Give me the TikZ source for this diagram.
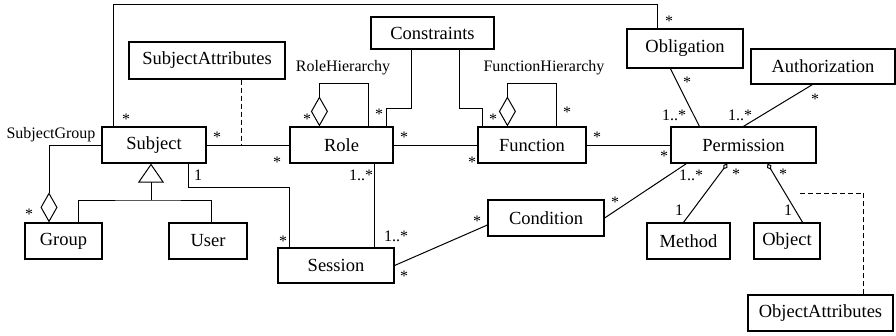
\documentclass[tikz,border=0pt]{standalone}
\usepackage{fontspec}
\setmainfont{Liberation Serif}
\usetikzlibrary{arrows.meta}

\begin{document}
\begin{tikzpicture}[x=1pt,y=-1pt,line width=1pt,
  cls/.style={draw,line width=1.2pt,inner sep=0pt,minimum height=36pt,font=\fontsize{18.5}{20}\selectfont},
  tag/.style={inner sep=0pt,font=\fontsize{16}{18}\selectfont},
  mult/.style={inner sep=0pt,font=\fontsize{16}{18}\selectfont},
  star/.style={mult,yshift=-2pt},
  aggr/.style={-{Diamond[open,length=30pt,width=17pt]}},
  aggrsmall/.style={-{Diamond[open,length=7pt,width=5pt]}},
  inherit/.style={-{Triangle[open,length=19pt,width=26pt]}},
  attr/.style={dash pattern=on 5pt off 3pt}]
  \useasboundingbox (0,0) rectangle (896,335);

  % classes
  \node[cls,at={(207,60.5)},minimum width=156pt,minimum height=37pt] (subjattr) {SubjectAttributes};
  \node[cls,at={(154,145)},minimum width=104pt] (subject) {Subject};
  \node[cls,at={(432.5,33)},minimum width=123pt,minimum height=32pt] (constraints) {Constraints};
  \node[cls,at={(341.5,145)},minimum width=103pt] (role) {Role};
  \node[cls,at={(532,145)},minimum width=108pt] (function) {Function};
  \node[cls,at={(685,48.5)},minimum width=116pt,minimum height=39pt] (obligation) {Obligation};
  \node[cls,at={(823,66.5)},minimum width=144pt,minimum height=35pt] (authorization) {Authorization};
  \node[cls,at={(743.5,145)},minimum width=145pt] (permission) {Permission};
  \node[cls,at={(63.5,241)},minimum width=77pt] (group) {Group};
  \node[cls,at={(208,241)},minimum width=78pt] (user) {User};
  \node[cls,at={(336,265.5)},minimum width=116pt,minimum height=35pt] (session) {Session};
  \node[cls,at={(546,218)},minimum width=116pt] (condition) {Condition};
  \node[cls,at={(688.5,241)},minimum width=83pt] (method) {Method};
  \node[cls,at={(787,241)},minimum width=66pt] (object) {Object};
  \node[cls,at={(820.5,313)},minimum width=145pt] (objattr) {ObjectAttributes};

  % subject side
  %edges
  \draw ([xshift=12pt]subject.north west) -- ++(0,-122) -| ([xshift=31pt]obligation.north west);
  \draw (subject.east) -- (role.west);
  \draw[attr] ([xshift=34pt]subjattr.south) -- ([xshift=34pt]subjattr.south |- subject.east);
  \draw[aggr] (subject.west) -| ([xshift=-14.5pt]group.north);
  \coordinate (gen) at (151,200);
  \draw ([xshift=14.5pt]group.north) |- (gen) -| ([xshift=3pt]user.north);
  \draw[inherit] (gen) -- (gen |- subject.south);
  \draw ([xshift=-18pt]subject.south east) -- ++(0,24) -| ([xshift=12pt]session.north west);
  %labels
  \node[tag,at={(51,135)}] (sgroup) {SubjectGroup};
  \node[star,at={(126,117)}] (mSubjTop) {*};
  \node[star,at={(217,135)}] (mSubjRole) {*};
  \node[star,at={(29,212)}] (mGroup) {*};
  \node[mult,at={(198,175)}] (mSubjSess) {1};
  \node[star,at={(283,239)}] (mSessSubj) {*};

  % role and function
  %edges
  \draw[aggr] ([xshift=-25pt]role.north east) -- ++(0,-43) -| ([xshift=30pt]role.north west);
  \draw ([xshift=41pt]constraints.south west) -- ++(0,59) -| ([xshift=-7pt]role.north east);
  \draw ([xshift=-35pt]constraints.south east) -- ++(0,59) -| ([xshift=5pt]function.north west);
  \draw[aggr] ([xshift=-30pt]function.north east) -- ++(0,-43) -| ([xshift=30pt]function.north west);
  \draw (role.east) -- (function.west);
  \draw (function.east) -- (permission.west);
  \draw ([xshift=-19pt]role.south east) -- ([xshift=-19pt]role.south east |- session.north);
  %labels
  \node[tag,at={(343,68)}] (rhier) {RoleHierarchy};
  \node[tag,at={(544,68)}] (fhier) {FunctionHierarchy};
  \node[star,at={(277,160)}] (mRoleSubj) {*};
  \node[star,at={(307,117)}] (mRoleHier) {*};
  \node[star,at={(379,112)}] (mRoleCons) {*};
  \node[star,at={(404,135)}] (mRoleFunc) {*};
  \node[star,at={(472,160)}] (mFuncRole) {*};
  \node[star,at={(493,117)}] (mFuncCons) {*};
  \node[star,at={(567,110)}] (mFuncHier) {*};
  \node[star,at={(597,135)}] (mFuncPerm) {*};
  \node[mult,at={(361,175)}] (mRoleSess) {1..*};
  \node[mult,at={(396,236)}] (mSessRole) {1..*};

  % permission side
  %edges
  \draw (session.east) -- ([yshift=-7pt]condition.west);
  \draw (condition.east) -- ([xshift=16pt]permission.south west);
  \draw ([xshift=44pt]obligation.south west) -- ([xshift=29pt]permission.north west);
  \draw ([xshift=62pt]authorization.south west) -- ([xshift=73pt]permission.north west);
  \draw[aggrsmall] ([xshift=-5pt]method.north) -- ([xshift=57pt]permission.south west);
  \draw[aggrsmall] ([xshift=-18pt]object.north east) -- ([xshift=97pt]permission.south west);
  \coordinate (objassoc) at (797,193);
  \draw[attr] ([xshift=116pt]objattr.north west) |- (objassoc);
  %labels
  \node[star,at={(669,19)}] (mOblTop) {*};
  \node[star,at={(664,154)}] (mPermFunc) {*};
  \node[star,at={(687,80)}] (mOblPerm) {*};
  \node[mult,at={(674,115)}] (mPermObl) {1..*};
  \node[mult,at={(740,115)}] (mPermAuth) {1..*};
  \node[star,at={(815,97)}] (mAuthPerm) {*};
  \node[star,at={(477,219)}] (mCondSess) {*};
  \node[star,at={(404,274)}] (mSessCond) {*};
  \node[star,at={(615,200)}] (mCondPerm) {*};
  \node[mult,at={(691,175)}] (mPermCond) {1..*};
  \node[mult,at={(679,210)}] (mMethod) {1};
  \node[star,at={(736,172)}] (mPermMeth) {*};
  \node[mult,at={(788,210)}] (mObject) {1};
  \node[star,at={(783,172)}] (mPermObj) {*};
\end{tikzpicture}
\end{document}
